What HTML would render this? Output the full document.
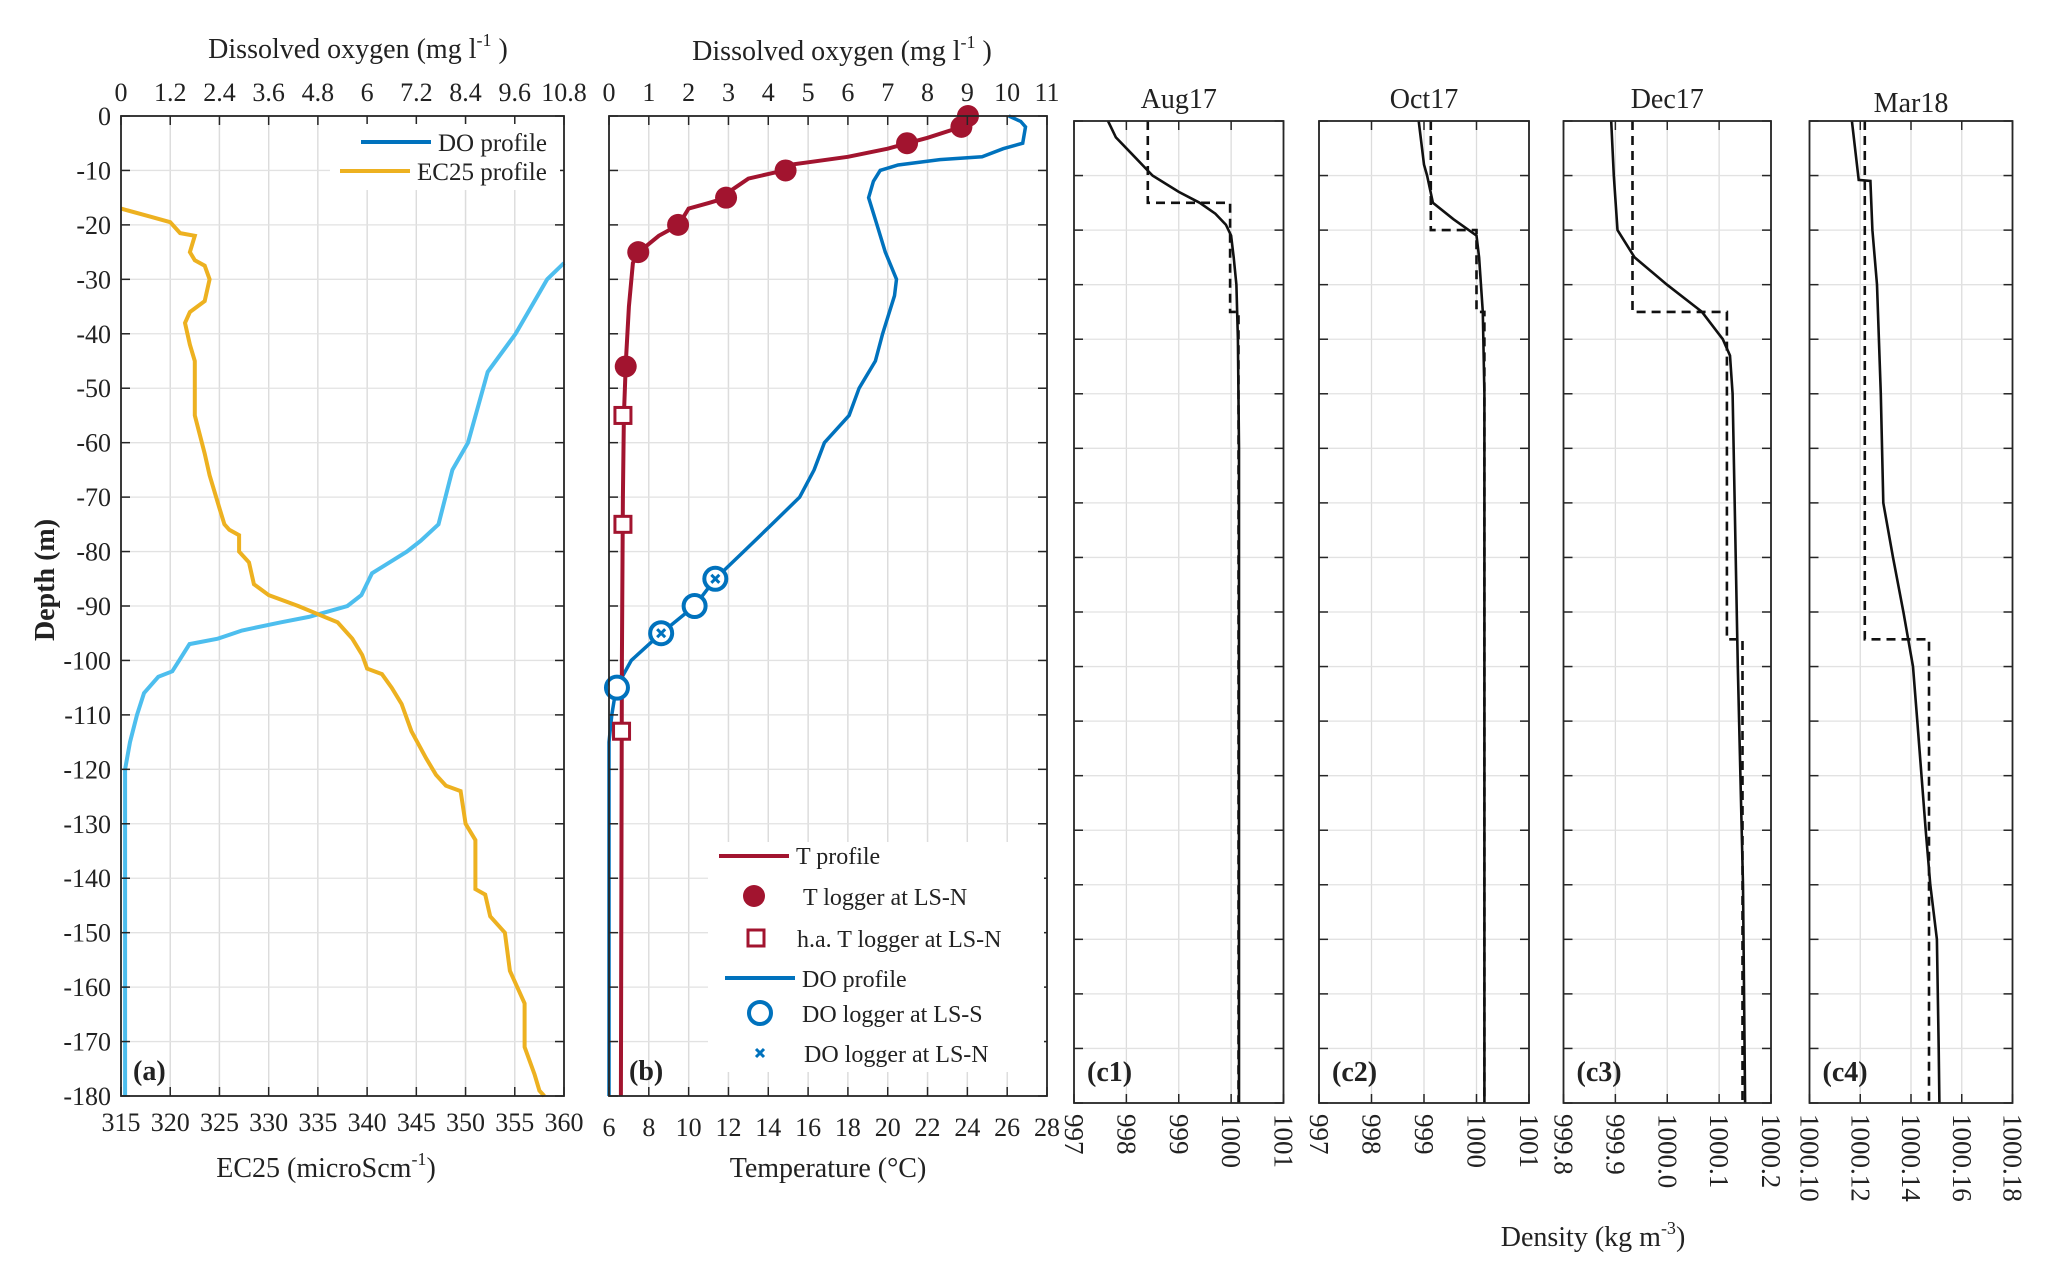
<!DOCTYPE html>
<html><head><meta charset="utf-8">
<style>
html,body{margin:0;padding:0;background:#fff;}
svg{display:block;font-family:"Liberation Serif",serif;}
</style></head>
<body>
<svg id="fig" xmlns="http://www.w3.org/2000/svg" width="2067" height="1272" viewBox="0 0 2067 1272">
<rect width="2067" height="1272" fill="#fff"/>
</svg>
<script>
// ---------- DATA ----------
const depthTicks=[0,-10,-20,-30,-40,-50,-60,-70,-80,-90,-100,-110,-120,-130,-140,-150,-160,-170,-180];
const ecTicks=[315,320,325,330,335,340,345,350,355,360];
const doTicksA=[0,1.2,2.4,3.6,4.8,6,7.2,8.4,9.6,10.8];
const doTickLabelsA=["0","1.2","2.4","3.6","4.8","6","7.2","8.4","9.6","10.8"];
const tempTicks=[6,8,10,12,14,16,18,20,22,24,26,28];
const doTicksB=[0,1,2,3,4,5,6,7,8,9,10,11];
// panel a: EC25 profile
const ecVals=[315,318,320,321,322.5,322,322.5,323.5,324,323.5,322,321.5,322,322.5,322.5,323.5,324,325,325.5,326,327,327,328,328.5,330,333,335,337,338.5,339.5,340,341.5,342.5,343.5,344.5,346,347,348,349.5,350,351,351,352,352.5,353,354,354.5,355.5,356,356,357,357.5,358];
const ecDepth=[-17,-18.5,-19.5,-21.5,-22,-25,-26.5,-27.5,-30,-34,-36,-38,-42,-45,-55,-62,-66,-72,-75,-76,-77,-80,-82,-86,-88,-90,-91.5,-93,-96,-99,-101.5,-102.5,-105,-108,-113,-118,-121,-123,-124,-130,-133,-142,-143,-147,-148,-150,-157,-161,-163,-171,-176,-179,-180];
// panel a: DO profile
const doAVals=[10.8,10.39,9.62,8.94,8.46,8.08,7.74,7.31,6.97,6.12,5.86,5.52,4.58,3.9,2.95,2.36,1.67,1.42,1.25,0.91,0.56,0.39,0.22,0.1,0.1];
const doADepth=[-27,-30,-40,-47,-60,-65,-75,-78,-80,-84,-88,-90,-92,-93,-94.5,-96,-97,-100,-102,-103,-106,-110,-115,-120,-180];
// panel b: temperature profile
const tVals=[24,23.7,22,21,20,18,16,15,14.8,13,12,11.9,11,10,9.5,8.5,7.5,7.2,7,6.85,6.75,6.7,6.65,6.6];
const tDepth=[0,-2,-4,-5,-6,-7.5,-8.5,-9,-10,-11.5,-14,-15,-16,-17,-20,-22,-25,-27,-35,-45,-55,-70,-100,-180];
const tLogVals=[24.03,23.7,20.97,14.87,11.88,9.47,7.47,6.84];
const tLogDepth=[0,-2,-5,-10,-15,-20,-25,-46];
const haVals=[6.7,6.7,6.63];
const haDepth=[-55,-75,-113];
// panel b: DO profile
const doBVals=[10.04,10.34,10.46,10.39,9.9,9.37,8.31,7.26,6.81,6.64,6.52,6.73,6.94,7.22,7.17,6.87,6.69,6.28,6.03,5.41,5.15,4.79,4.09,3.38,2.67,2.15,1.31,0.56,0.18,0.07,0,0];
const doBDepth=[0,-1,-2,-5,-6,-7.5,-8,-9,-10,-12,-15,-20,-25,-30,-33,-40,-45,-50,-55,-60,-65,-70,-75,-80,-85,-90,-95,-100,-105,-110,-115,-180];
const doLogSVals=[2.15,0.2];
const doLogSDepth=[-90,-105];
const doLogNVals=[2.67,1.31];
const doLogNDepth=[-85,-95];
// panels c: density
const cTitles=["Aug17","Oct17","Dec17","Mar18"];
const cTags=["(c1)","(c2)","(c3)","(c4)"];
const cTicks1=[997,998,999,1000,1001];
const cTicks2=[997,998,999,1000,1001];
const cTicks3=[999.8,999.9,1000.0,1000.1,1000.2];
const cTicks4=[1000.10,1000.12,1000.14,1000.16,1000.18];
const cTickLabels1=["997","998","999","1000","1001"];
const cTickLabels2=["997","998","999","1000","1001"];
const cTickLabels3=["999.8","999.9","1000.0","1000.1","1000.2"];
const cTickLabels4=["1000.10","1000.12","1000.14","1000.16","1000.18"];
const c1Rho=[997.65,997.8,998.1,998.4,998.5,999,999.4,999.7,999.9,1000.0,1000.05,1000.1,1000.13,1000.15,1000.15];
const c1Depth=[0,-3,-6,-9,-10,-13,-15,-17,-19,-21,-25,-30,-40,-60,-180];
const c1StepRho=[998.41,998.41,999.98,999.98,1000.14,1000.14];
const c1StepDepth=[0,-15,-15,-35,-35,-180];
const c2Rho=[998.9,999.0,999.06,999.17,999.56,1000.0,1000.05,1000.12,1000.15,1000.15];
const c2Depth=[0,-8,-10,-15,-18,-21,-25,-35,-50,-180];
const c2StepRho=[999.13,999.13,1000.0,1000.0,1000.15,1000.15];
const c2StepDepth=[0,-20,-20,-35,-35,-180];
const c3Rho=[999.892,999.897,999.904,999.937,999.9995,1000.067,1000.107,1000.121,1000.126,1000.136,1000.146,1000.150];
const c3Depth=[0,-10,-20,-25,-30,-35,-40,-43,-50,-100,-140,-180];
const c3StepRho=[999.933,999.933,1000.115,1000.115,1000.145,1000.145];
const c3StepDepth=[0,-35,-35,-95,-95,-180];
const c4Rho=[1000.1167,1000.1192,1000.1194,1000.124,1000.1248,1000.1266,1000.1281,1000.1291,1000.1329,1000.137,1000.1408,1000.1425,1000.1458,1000.1476,1000.1502,1000.1509,1000.1512];
const c4Depth=[0,-10,-10.8,-11,-20,-30,-50,-70,-80,-90,-100,-110,-130,-140,-150,-170,-180];
const c4StepRho=[1000.1218,1000.1218,1000.1471,1000.1471];
const c4StepDepth=[0,-95,-95,-180];

// ---------- HELPERS ----------
const NS="http://www.w3.org/2000/svg";
const svg=document.getElementById('fig');
function el(tag,attrs,parent){const e=document.createElementNS(NS,tag);for(const k in attrs)e.setAttribute(k,attrs[k]);(parent||svg).appendChild(e);return e;}
function txt(str,x,y,size,anchor,parent,extra){const t=el('text',Object.assign({x:x,y:y,'font-size':size,'text-anchor':anchor||'middle',fill:'#222'},extra||{}),parent);t.textContent=str;return t;}
function lin(d0,d1,p0,p1){return v=>p0+(v-d0)/(d1-d0)*(p1-p0);}
function poly(xs,ys,fx,fy,attrs,parent){let d='';for(let i=0;i<xs.length;i++)d+=(i?'L':'M')+fx(xs[i]).toFixed(1)+','+fy(ys[i]).toFixed(1);return el('path',Object.assign({d:d,fill:'none'},attrs),parent);}

function frame(g,L,R,T,B,fy,xt,fx,topTicks,fxTop){
  xt.forEach(v=>{const x=fx(v);el('line',{x1:x,x2:x,y1:T,y2:B,stroke:'#dcdcdc','stroke-width':1.3},g);});
  if(topTicks) topTicks.forEach(v=>{const x=fxTop(v);el('line',{x1:x,x2:x,y1:T,y2:B,stroke:'#dcdcdc','stroke-width':1.3},g);});
  depthTicks.forEach(v=>{const y=fy(v);el('line',{x1:L,x2:R,y1:y,y2:y,stroke:'#e2e2e2','stroke-width':1.3},g);});
}
function box(g,L,R,T,B,fy,xt,fx,topTicks,fxTop){
  depthTicks.forEach(v=>{const y=fy(v);el('line',{x1:L,x2:L+9,y1:y,y2:y,stroke:'#262626','stroke-width':1.5},g);el('line',{x1:R-9,x2:R,y1:y,y2:y,stroke:'#262626','stroke-width':1.5},g);});
  xt.forEach(v=>{const x=fx(v);el('line',{x1:x,x2:x,y1:B,y2:B-9,stroke:'#262626','stroke-width':1.5},g);if(!topTicks)el('line',{x1:x,x2:x,y1:T,y2:T+9,stroke:'#262626','stroke-width':1.5},g);});
  if(topTicks) topTicks.forEach(v=>{const x=fxTop(v);el('line',{x1:x,x2:x,y1:T,y2:T+9,stroke:'#262626','stroke-width':1.5},g);});
  el('rect',{x:L,y:T,width:R-L,height:B-T,fill:'none',stroke:'#262626','stroke-width':1.8},g);
}

// ---------- PANEL A ----------
const aL=121,aR=564,T=116,B=1096;
const fyA=lin(0,-180,T,B);
const gA=el('g',{});


const fxEC=lin(315,360,aL,aR), fxDOa=lin(0,10.8,aL,aR);
frame(gA,aL,aR,T,B,fyA,ecTicks,fxEC,doTicksA,fxDOa);
const doLineA=poly(doAVals,doADepth,fxDOa,fyA,{stroke:'#4DBEEE','stroke-width':4},gA);


const ecLine=poly(ecVals,ecDepth,fxEC,fyA,{stroke:'#EDB120','stroke-width':4},gA);


box(gA,aL,aR,T,B,fyA,ecTicks,fxEC,doTicksA,fxDOa);
ecTicks.forEach(v=>{const t=txt(String(v),fxEC(v),1131,26,'middle',gA);});
doTicksA.forEach((v,i)=>{const t=txt(doTickLabelsA[i],fxDOa(v),101,26,'middle',gA);});
depthTicks.forEach(v=>{const t=txt(String(v),111,fyA(v)+9,26,'end',gA);});
const legA=el('g',{},gA);


el('rect',{x:330,y:124,width:230,height:66,fill:'#fff'},legA);
el('line',{x1:361,x2:431,y1:142,y2:142,stroke:'#0072BD','stroke-width':4},legA);
txt('DO profile',438,151,25,'start',legA);
el('line',{x1:340,x2:410,y1:171,y2:171,stroke:'#EDB120','stroke-width':4},legA);
txt('EC25 profile',417,180,25,'start',legA);
txt('(a)',133,1080,28,'start',gA,{'font-weight':'bold'});
const xtA=el('text',{x:326,y:1177,'font-size':28,'text-anchor':'middle',fill:'#222'},gA);
xtA.innerHTML='EC25 (microScm<tspan dy="-12" font-size="18">-1</tspan><tspan dy="12">)</tspan>';


const ttA=el('text',{x:358,y:58,'font-size':28,'text-anchor':'middle',fill:'#222'},gA);
ttA.innerHTML='Dissolved oxygen (mg l<tspan dy="-12" font-size="18">-1</tspan><tspan dy="12"> )</tspan>';


const yl=el('text',{x:0,y:0,'font-size':28,'font-weight':'bold','text-anchor':'middle',fill:'#222',transform:'translate(54,580) rotate(-90)'},gA);
yl.textContent='Depth (m)';



// ---------- PANEL B ----------
const bL=609,bR=1047;
const gB=el('g',{});


const fxT=lin(6,28,bL,bR), fxDOb=lin(0,11,bL,bR);
frame(gB,bL,bR,T,B,fyA,tempTicks,fxT,doTicksB,fxDOb);
const doLineB=poly(doBVals,doBDepth,fxDOb,fyA,{stroke:'#0072BD','stroke-width':3.5},gB);


const tLine=poly(tVals,tDepth,fxT,fyA,{stroke:'#A2142F','stroke-width':4},gB);


tLogVals.forEach((v,i)=>{const c=el('circle',{cx:fxT(v),cy:fyA(tLogDepth[i]),r:11,fill:'#A2142F'},gB);});
haVals.forEach((v,i)=>{const r=el('rect',{x:fxT(v)-8,y:fyA(haDepth[i])-8,width:16,height:16,fill:'#fff',stroke:'#A2142F','stroke-width':3},gB);});
doLogSVals.forEach((v,i)=>{const c=el('circle',{cx:fxDOb(v),cy:fyA(doLogSDepth[i]),r:11,fill:'#fff',stroke:'#0072BD','stroke-width':4},gB);});
doLogNVals.forEach((v,i)=>{const x=fxDOb(v),y=fyA(doLogNDepth[i]);const g=el('g',{},gB);
  el('circle',{cx:x,cy:y,r:11,fill:'#fff',stroke:'#0072BD','stroke-width':4},g);
  el('path',{d:`M${x-4},${y-4}L${x+4},${y+4}M${x+4},${y-4}L${x-4},${y+4}`,stroke:'#0072BD','stroke-width':3},g);});
box(gB,bL,bR,T,B,fyA,tempTicks,fxT,doTicksB,fxDOb);
tempTicks.forEach(v=>{const t=txt(String(v),fxT(v),1136,26,'middle',gB);});
doTicksB.forEach(v=>{const t=txt(String(v),fxDOb(v),101,26,'middle',gB);});
const legB=el('g',{},gB);


el('rect',{x:708,y:842,width:336,height:230,fill:'#fff'},legB);
el('line',{x1:719,x2:789,y1:856,y2:856,stroke:'#A2142F','stroke-width':4},legB);
txt('T profile',796,864,24,'start',legB);
el('circle',{cx:754,cy:896,r:11,fill:'#A2142F'},legB);
txt('T logger at LS-N',803,905,24,'start',legB);
el('rect',{x:748,y:930,width:16,height:16,fill:'#fff',stroke:'#A2142F','stroke-width':3},legB);
txt('h.a. T logger at LS-N',797,947,24,'start',legB);
el('line',{x1:725,x2:795,y1:978,y2:978,stroke:'#0072BD','stroke-width':4},legB);
txt('DO profile',802,987,24,'start',legB);
el('circle',{cx:760,cy:1013,r:11,fill:'#fff',stroke:'#0072BD','stroke-width':4},legB);
txt('DO logger at LS-S',802,1022,24,'start',legB);
el('path',{d:'M756,1049L764,1057M764,1049L756,1057',stroke:'#0072BD','stroke-width':3},legB);
txt('DO logger at LS-N',804,1062,24,'start',legB);
txt('(b)',629,1080,28,'start',gB,{'font-weight':'bold'});
const xtB=el('text',{x:828,y:1177,'font-size':28,'text-anchor':'middle',fill:'#222'},gB);
xtB.textContent='Temperature (°C)';


const ttB=el('text',{x:842,y:60,'font-size':28,'text-anchor':'middle',fill:'#222'},gB);
ttB.innerHTML='Dissolved oxygen (mg l<tspan dy="-12" font-size="18">-1</tspan><tspan dy="12"> )</tspan>';



// ---------- PANELS C ----------
const cL=[1074,1319,1563.5,1809.5], cR=[1283.5,1529,1771,2012.5];
const cT=121, cB=1103;
const cTicks=[cTicks1,cTicks2,cTicks3,cTicks4];
const cLabels=[cTickLabels1,cTickLabels2,cTickLabels3,cTickLabels4];
const cSolid=[[c1Rho,c1Depth],[c2Rho,c2Depth],[c3Rho,c3Depth],[c4Rho,c4Depth]];
const cStep=[[c1StepRho,c1StepDepth],[c2StepRho,c2StepDepth],[c3StepRho,c3StepDepth],[c4StepRho,c4StepDepth]];
const fyC=lin(0,-180,cT,cB);
for(let k=0;k<4;k++){
  const g=el('g',{});
  
  
  const tk=cTicks[k];
  const fx=lin(tk[0],tk[tk.length-1],cL[k],cR[k]);
  frame(g,cL[k],cR[k],cT,cB,fyC,tk,fx,null,null);
  const s=poly(cStep[k][0],cStep[k][1],fx,fyC,{stroke:'#111','stroke-width':2.6,'stroke-dasharray':'9,6'},g);
  
  
  const p=poly(cSolid[k][0],cSolid[k][1],fx,fyC,{stroke:'#111','stroke-width':2.6},g);
  
  
  box(g,cL[k],cR[k],cT,cB,fyC,tk,fx,null,null);
  tk.forEach((v,i)=>{const x=fx(v);const t=el('text',{x:0,y:0,'font-size':27,'text-anchor':'start',fill:'#222',transform:`translate(${x-9},1114) rotate(90)`},g);t.textContent=cLabels[k][i];
    
    });
  const tt=txt(cTitles[k],(cL[k]+cR[k])/2,k==3?112:108,28,'middle',g);
  
  
  txt(cTags[k],cL[k]+13,1081,28,'start',g,{'font-weight':'bold'});
}
const dl=el('text',{x:1593,y:1246,'font-size':28,'text-anchor':'middle',fill:'#222'});
dl.innerHTML='Density (kg m<tspan dy="-12" font-size="18">-3</tspan><tspan dy="12">)</tspan>';


</script>
</body></html>
